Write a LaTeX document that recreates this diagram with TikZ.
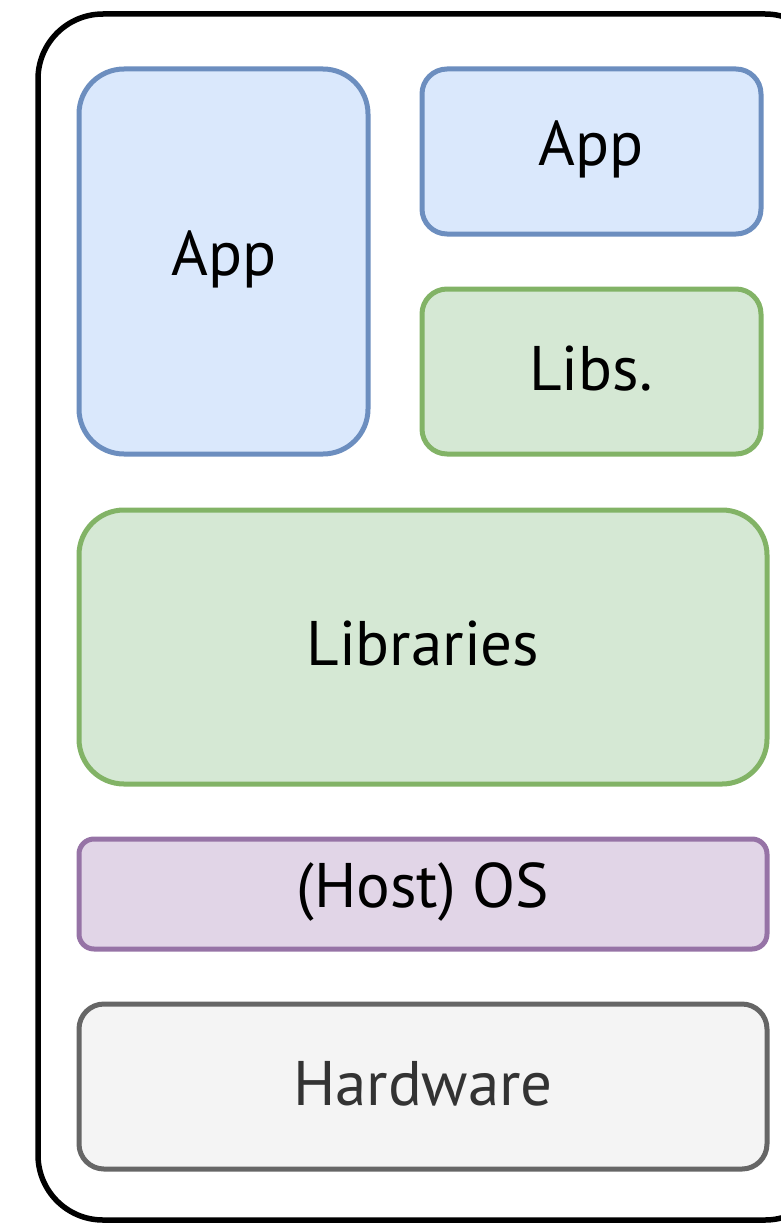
\documentclass[tikz,border=0pt]{standalone}
\usepackage{fontspec}
\setmainfont{PT Sans}
\definecolor{bluefill}{HTML}{DAE8FC}
\definecolor{blueline}{HTML}{6C8EBF}
\definecolor{greenfill}{HTML}{D5E8D4}
\definecolor{greenline}{HTML}{82B366}
\definecolor{purpfill}{HTML}{E1D5E7}
\definecolor{purpline}{HTML}{9673A6}
\definecolor{grayfill}{HTML}{F4F4F4}
\definecolor{grayline}{HTML}{666666}
\definecolor{graytext}{HTML}{333333}
\tikzset{
  box/.style={line width=5pt, font=\fontsize{63}{63}\selectfont},
  bluebox/.style={box, draw=blueline, fill=bluefill},
  greenbox/.style={box, draw=greenline, fill=greenfill},
  purpbox/.style={box, draw=purpline, fill=purpfill},
  graybox/.style={box, draw=grayline, fill=grayfill, text=graytext},
}
\begin{document}
\begin{tikzpicture}[x=1pt,y=-1pt]
\useasboundingbox (0,0) rectangle (781,1223);
\clip (0,0) rectangle (781,1223);
\draw[line width=5.5pt, rounded corners=65pt] (38,14) rectangle (830,1220);
\draw[bluebox, rounded corners=45pt] (79,69) rectangle (368,454);
\node[box] (app1) at (224,259) {App};
\draw[bluebox, rounded corners=25pt] (422,69) rectangle (761,234);
\node[box] (app2) at (591,149) {App};
\draw[greenbox, rounded corners=25pt] (422,289) rectangle (761,454);
\node[box] (libs) at (591,369) {Libs.};
\draw[greenbox, rounded corners=45pt] (79,510) rectangle (767,784);
\node[box] (libraries) at (423,644) {Libraries};
\draw[purpbox, rounded corners=15pt] (79,839) rectangle (767,949);
\node[box] (os) at (423,892) {(Host) OS};
\draw[graybox, rounded corners=25pt] (79,1004) rectangle (767,1169);
\node[box, text=graytext] (hw) at (423,1084) {Hardware};
\end{tikzpicture}
\end{document}
